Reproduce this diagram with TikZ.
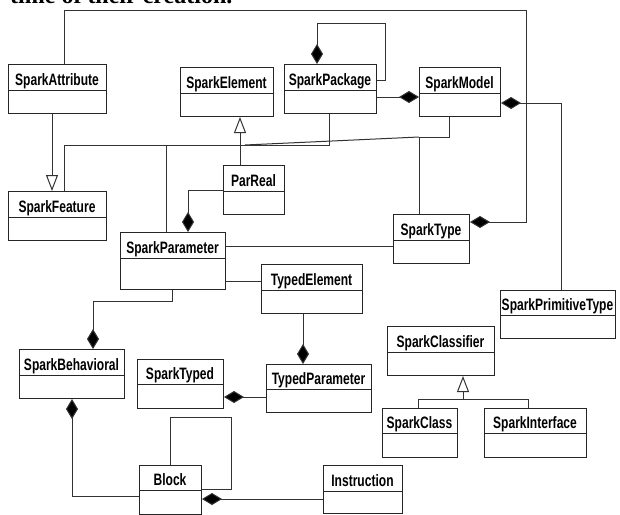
\documentclass[tikz,border=0pt]{standalone}
\usepackage{fontspec}
\newfontfamily\clsfont[FakeStretch=0.73]{Liberation Sans}
\newfontfamily\serifb{Liberation Serif}
\usetikzlibrary{arrows.meta}
\tikzset{
  clsbox/.style={draw=black!85, line width=1pt, rectangle, inner sep=0pt, fill=white},
  clsline/.style={draw=black!85, line width=1pt},
  clstext/.style={font=\clsfont\bfseries\fontsize{16.5}{16.5}\selectfont, inner sep=0pt, anchor=base},
  conn/.style={draw=black!80, line width=1pt},
  comp/.style={conn, -{Diamond[length=20pt,width=12pt,fill=black]}},
  gen/.style={conn, -{Triangle[open,length=16pt,width=12pt,fill=white]}}
}
\newcommand{\cls}[7]{%
  \node[clsbox, minimum width={(#4-#2)*1pt}, minimum height={(#5-#3)*1pt}, anchor=north west] (#1) at (#2,#3) {};
  \draw[clsline] (#2,#6) -- (#4,#6);
  \node[clstext] (#1-t) at ({(#2+#4)/2}, {#6-5}) {#7};
}
\begin{document}
\begin{tikzpicture}[x=1pt,y=-1pt]
\useasboundingbox (0,0) rectangle (620,514);
\clip (0,0) rectangle (620,514);
\fill[white] (0,0) rectangle (620,514);
\node[anchor=base west, inner sep=0pt] (cap) at (10,4) {\serifb\bfseries\fontsize{24}{24}\selectfont time of their creation.};

% classes
\cls{SparkAttribute}{8}{64}{106}{113}{90}{SparkAttribute}
\cls{SparkElement}{180}{67}{273}{116}{93}{SparkElement}
\cls{SparkPackage}{284}{64}{376}{113}{90}{SparkPackage}
\cls{SparkModel}{419}{67}{500}{116}{93}{SparkModel}
\cls{SparkFeature}{8}{191}{106}{240}{217}{SparkFeature}
\cls{ParReal}{223}{165}{284}{214}{191}{ParReal}
\cls{SparkParameter}{120}{232}{225}{289}{258}{SparkParameter}
\cls{TypedElement}{261}{264}{362}{313}{290}{TypedElement}
\cls{SparkType}{393}{214}{469}{263}{240}{SparkType}
\cls{SparkPrimitiveType}{500}{290}{615}{338}{315}{SparkPrimitiveType}
\cls{SparkClassifier}{387}{326}{494}{375}{352}{SparkClassifier}
\cls{SparkClass}{382}{408}{457}{457}{433}{SparkClass}
\cls{SparkInterface}{484}{408}{586}{457}{433}{SparkInterface}
\cls{SparkBehavioral}{19}{349}{124}{398}{375}{SparkBehavioral}
\cls{SparkTyped}{137}{359}{223}{408}{384}{SparkTyped}
\cls{TypedParameter}{266}{364}{371}{412}{389}{TypedParameter}
\cls{Block}{139}{465}{201}{514}{490}{Block}
\cls{Instruction}{323}{465}{402}{513}{491}{Instruction}

% junction coordinates
\coordinate (t1) at (64,10);
\coordinate (t2) at (526,10);
\coordinate (t3) at (526,222);
\coordinate (p1) at (317,23);
\coordinate (p2) at (385,23);
\coordinate (p3) at (385,80);
\coordinate (m1) at (0,97);
\coordinate (q1) at (561,103);
\coordinate (g1) at (52,0);
\coordinate (g2) at (240,0);
\coordinate (h1) at (64,145);
\coordinate (h2) at (329,145);
\coordinate (h3) at (166,145);
\coordinate (k1) at (449,137);
\coordinate (k2) at (419,137);
\coordinate (k3) at (245,145);
\coordinate (r1) at (188,190);
\coordinate (s1) at (0,246);
\coordinate (s2) at (0,281);
\coordinate (b1) at (172,301);
\coordinate (b2) at (93,301);
\coordinate (e1) at (303,0);
\coordinate (e2) at (0,397);
\coordinate (c1) at (72,496);
\coordinate (c2) at (170,417);
\coordinate (c3) at (231,417);
\coordinate (c4) at (231,489);
\coordinate (c5) at (0,499);
\coordinate (d1) at (463,399);
\coordinate (d2) at (418,399);
\coordinate (d3) at (528,399);

% connectors
\draw[comp] (t1 |- SparkAttribute.north) -- (t1) -- (t2) -- (t3) -- (t3 -| SparkType.east);
\draw[comp] (p3 -| SparkPackage.east) -- (p3) -- (p2) -- (p1) -- (p1 |- SparkPackage.north);
\draw[comp] (m1 -| SparkPackage.east) -- (m1 -| SparkModel.west);
\draw[comp] (q1 |- SparkPrimitiveType.north) -- (q1) -- (q1 -| SparkModel.east);
\draw[gen] (g1 |- SparkAttribute.south) -- (g1 |- SparkFeature.north);
\draw[gen] (g2 |- ParReal.north) -- (g2 |- SparkElement.south);
\draw[conn] (h1 |- SparkFeature.north) -- (h1) -- (h2) -- (h2 |- SparkPackage.south);
\draw[conn] (h3) -- (h3 |- SparkParameter.north);
\draw[conn] (k1 |- SparkModel.south) -- (k1) -- (k2) -- (k2 |- SparkType.north);
\draw[conn] (k3) -- (k2);
\draw[comp] (r1 -| ParReal.west) -- (r1) -- (r1 |- SparkParameter.north);
\draw[conn] (s1 -| SparkParameter.east) -- (s1 -| SparkType.west);
\draw[conn] (s2 -| SparkParameter.east) -- (s2 -| TypedElement.west);
\draw[comp] (b1 |- SparkParameter.south) -- (b1) -- (b2) -- (b2 |- SparkBehavioral.north);
\draw[comp] (e1 |- TypedElement.south) -- (e1 |- TypedParameter.north);
\draw[comp] (e2 -| TypedParameter.west) -- (e2 -| SparkTyped.east);
\draw[comp] (c1 -| Block.west) -- (c1) -- (c1 |- SparkBehavioral.south);
\draw[conn] (c2 |- Block.north) -- (c2) -- (c3) -- (c4) -- (c4 -| Block.east);
\draw[comp] (c5 -| Instruction.west) -- (c5 -| Block.east);
\draw[gen] (d1) -- (d1 |- SparkClassifier.south);
\draw[conn] (d2 |- SparkClass.north) -- (d2) -- (d3) -- (d3 |- SparkInterface.north);
\end{tikzpicture}
\end{document}
